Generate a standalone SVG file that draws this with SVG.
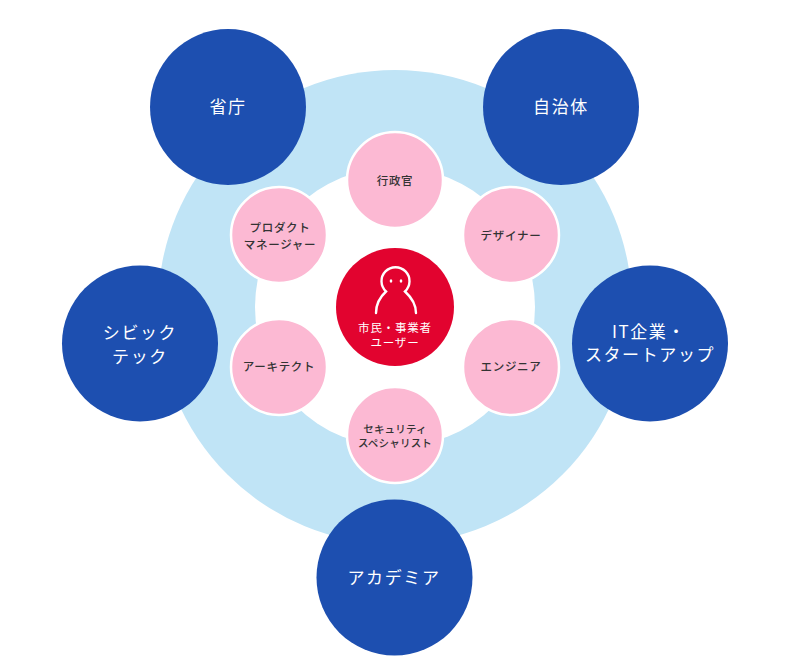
<svg xmlns="http://www.w3.org/2000/svg" width="800" height="663" viewBox="0 0 800 663">
<style>
text{font-family:"Noto Sans CJK JP","Noto Sans",sans-serif;text-anchor:middle}
.b{fill:#1d4fb0}.p{fill:#fcb9d3;stroke:#fff;stroke-width:2.5}
.bt{fill:#fff;font-size:17px;letter-spacing:1.6px;font-weight:400}
.pt{fill:#333;font-size:11.5px;letter-spacing:.7px;font-weight:500}
.pn{fill:#333;font-size:10.5px;letter-spacing:.2px;font-weight:500}
.rt{fill:#fff;font-size:11.5px;letter-spacing:.8px;font-weight:400}
</style>
<rect width="800" height="663" fill="#fff"/>
<g id="rings"><circle cx="395" cy="307" r="237" fill="#c0e4f6"/><circle cx="395" cy="307" r="140" fill="#fff"/></g>
<g id="connectors"></g>
<g id="n1"><circle class="b" cx="228" cy="107" r="78"/><text class="bt" x="228" y="113">省庁</text></g>
<g id="n2"><circle class="b" cx="561" cy="107" r="78"/><text class="bt" x="561" y="113">自治体</text></g>
<g id="n3"><circle class="b" cx="140" cy="343.5" r="78"/><text class="bt" x="140" y="339">シビック</text><text class="bt" x="140" y="363">テック</text></g>
<g id="n4"><circle class="b" cx="650" cy="343.5" r="78"/><text class="bt" x="649" y="338">IT企業・</text><text class="bt" x="650" y="361">スタートアップ</text></g>
<g id="n5"><circle class="b" cx="394.5" cy="577.5" r="78"/><text class="bt" x="394" y="584">アカデミア</text></g>
<g id="p1"><circle class="p" cx="395" cy="180" r="48"/><text class="pt" x="395" y="185">行政官</text></g>
<g id="p2"><circle class="p" cx="511" cy="235" r="48"/><text class="pt" x="511" y="240">デザイナー</text></g>
<g id="p3"><circle class="p" cx="511" cy="367" r="48"/><text class="pt" x="511" y="371">エンジニア</text></g>
<g id="p4"><circle class="p" cx="395" cy="435" r="48"/><text class="pn" x="395" y="433">セキュリティ</text><text class="pn" x="395" y="447">スペシャリスト</text></g>
<g id="p5"><circle class="p" cx="279" cy="367" r="48"/><text class="pt" x="279" y="371">アーキテクト</text></g>
<g id="p6"><circle class="p" cx="279" cy="235" r="48"/><text class="pt" x="280" y="232">プロダクト</text><text class="pt" x="280" y="249">マネージャー</text></g>
<g id="center"><circle cx="395" cy="307" r="59" fill="#e2032f"/>
<path d="M376 313C376 305 380 297 386 291.500A14 14 0 1 1 405 291.500C411 297 416 305 416 313" fill="none" stroke="#fff" stroke-width="2.400" stroke-linecap="round"/>
<ellipse cx="391" cy="281" rx="1.300" ry="1.800" fill="#fff"/><ellipse cx="401" cy="281" rx="1.300" ry="1.800" fill="#fff"/>
<text class="rt" x="395" y="332">市民・事業者</text><text class="rt" x="395" y="347">ユーザー</text></g>
</svg>
